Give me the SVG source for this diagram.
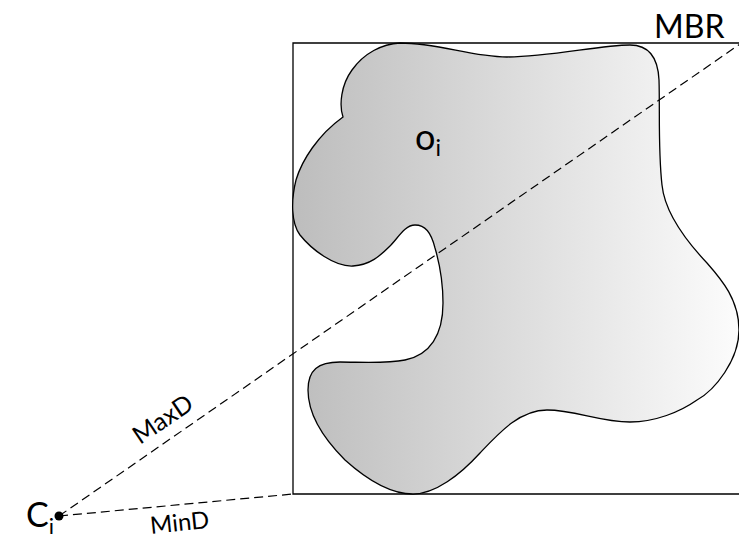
<svg xmlns="http://www.w3.org/2000/svg" width="739" height="539" viewBox="0 0 739 539">
<style>
.lbl{font-family:Lato,"Open Sans","Liberation Sans",sans-serif;fill:#000}
.dash{fill:none;stroke:#000;stroke-width:1.2;stroke-dasharray:9 5}
</style>
<defs>
<linearGradient id="g" x1="293" y1="0" x2="739" y2="0" gradientUnits="userSpaceOnUse">
<stop offset="0" stop-color="#bdbdbd"/>
<stop offset="1" stop-color="#fcfcfc"/>
</linearGradient>
</defs>
<rect width="739" height="539" fill="#fff"/>
<g id="mbr">
<path d="M760 43 H293 V494 H760" fill="none" stroke="#000" stroke-width="1.3"/>
<text class="lbl" x="654" y="38" font-size="32">MBR</text>
</g>
<g id="object">
<path d="M343 117 C339 105 341 85 352 70 C364 53 382 44 400 43 C440 43 470 57 507 57 C550 57 600 45 630 45 C650 45 658 58 659 80 C660 110 658 150 662 185 C665 215 690 245 707 263 C722 280 739 300 739 330 C739 360 715 390 697 400 C680 412 655 422 630 422 C600 422 575 410 547 410 C520 410 500 432 480 453 C460 475 435 494 413 494 C390 494 365 478 345 460 C325 440 308 415 308 390 C308 370 318 362 340 362 C360 362 385 364 405 360 C430 355 443 335 443 303 C443 285 440 265 435 248 C431 232 425 225 415 225 C405 225 398 238 390 246 C380 256 370 265 353 266 C335 267 312 250 300 235 C291 223 291 200 296 180 C302 160 318 135 343 117 Z" fill="url(#g)" stroke="#000" stroke-width="1.3"/>
<text class="lbl" x="415" y="150" font-size="36">o<tspan font-size="23" dy="6">i</tspan></text>
</g>
<g id="ci">
<circle cx="59" cy="516" r="4.5" fill="#000"/>
<text class="lbl" x="26" y="527" font-size="34">C<tspan font-size="22" dy="7">i</tspan></text>
</g>
<g id="connectors">
<line class="dash" x1="59" y1="516" x2="740" y2="44"/>
<line class="dash" x1="59" y1="516" x2="293" y2="494"/>
<text class="lbl" font-size="25" transform="translate(140 445) rotate(-34)">MaxD</text>
<text class="lbl" font-size="24" transform="translate(151 534) rotate(-6)">MinD</text>
</g>
</svg>
